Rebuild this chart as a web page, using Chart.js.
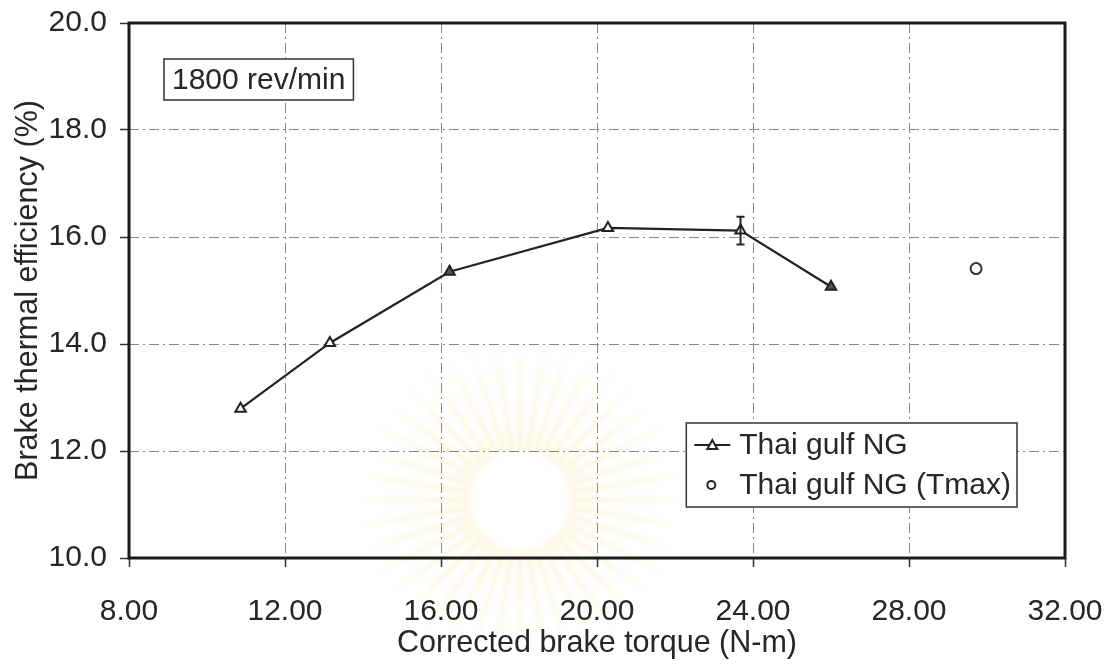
<!DOCTYPE html>
<html>
<head>
<meta charset="utf-8">
<title>Brake thermal efficiency vs corrected brake torque</title>
<script src="https://cdn.jsdelivr.net/npm/chart.js@4/dist/chart.umd.min.js"></script>
<style>
  html, body { margin: 0; padding: 0; background: #ffffff; }
  #wrap { width: 1113px; height: 666px; position: relative; }
</style>
</head>
<body>
<div id="wrap"><canvas id="chart" width="1113" height="666"></canvas></div>
<script>
// Measured series at 1800 rev/min
const torque = [10.86, 13.15, 16.22, 20.28, 23.68, 26.0];          // N-m
const efficiency = [12.79, 14.02, 15.35, 16.17, 16.12, 15.07];     // %
const efficiencyError = [0, 0, 0, 0, 0.26, 0];                     // +/- %

// Maximum-torque point
const tmaxTorque = [29.72];
const tmaxEfficiency = [15.41];

// Axes
const xTicks = [8, 12, 16, 20, 24, 28, 32];
const yTicks = [10, 12, 14, 16, 18, 20];

const seriesLabels = ['Thai gulf NG', 'Thai gulf NG (Tmax)'];
const speedLabel = '1800 rev/min';

const FONT = "'Liberation Sans', Arial, Helvetica, sans-serif";
const INK = '#262626';
const FS = 30;

const mainPoints = torque.map((x, i) => ({ x, y: efficiency[i] }));
const tmaxPoints = tmaxTorque.map((x, i) => ({ x, y: tmaxEfficiency[i] }));

// Pale emblem behind the plot
const emblemPlugin = {
  id: 'emblem',
  beforeDraw(chart) {
    const ctx = chart.ctx;
    const cx = 520, cy = 500, r0 = 50, r1 = 160, n = 40;
    ctx.save();
    ctx.filter = 'blur(2px)';
    for (let i = 0; i < n; i++) {
      const a = (i / n) * Math.PI * 2;
      const w = (Math.PI * 2 / n) * 0.4;
      const g = ctx.createRadialGradient(cx, cy, r0, cx, cy, r1);
      g.addColorStop(0, 'rgba(248, 226, 160, 0.32)');
      g.addColorStop(0.6, 'rgba(248, 226, 160, 0.2)');
      g.addColorStop(1, 'rgba(248, 226, 160, 0)');
      ctx.fillStyle = g;
      ctx.beginPath();
      ctx.moveTo(cx + Math.cos(a - w) * r0, cy + Math.sin(a - w) * r0);
      ctx.lineTo(cx + Math.cos(a - w * 0.3) * r1, cy + Math.sin(a - w * 0.3) * r1);
      ctx.lineTo(cx + Math.cos(a + w * 0.3) * r1, cy + Math.sin(a + w * 0.3) * r1);
      ctx.lineTo(cx + Math.cos(a + w) * r0, cy + Math.sin(a + w) * r0);
      ctx.closePath();
      ctx.fill();
    }
    ctx.restore();
  }
};

// Thick frame round the plot area
const framePlugin = {
  id: 'frame',
  beforeDatasetsDraw(chart) {
    const { ctx, chartArea: a } = chart;
    ctx.save();
    ctx.strokeStyle = '#1a1a1a';
    ctx.lineWidth = 3;
    ctx.strokeRect(a.left, a.top, a.right - a.left, a.bottom - a.top);
    ctx.restore();
  }
};

// Vertical error bars on the measured series
const errorBarPlugin = {
  id: 'errorBars',
  afterDatasetsDraw(chart) {
    const { ctx, scales: { x, y } } = chart;
    ctx.save();
    ctx.strokeStyle = '#222';
    ctx.lineWidth = 2;
    efficiencyError.forEach((e, i) => {
      if (!e) return;
      const px = x.getPixelForValue(torque[i]);
      const yt = y.getPixelForValue(efficiency[i] + e);
      const yb = y.getPixelForValue(efficiency[i] - e);
      ctx.beginPath();
      ctx.moveTo(px, yt); ctx.lineTo(px, yb);
      ctx.moveTo(px - 4, yt); ctx.lineTo(px + 4, yt);
      ctx.moveTo(px - 4, yb); ctx.lineTo(px + 4, yb);
      ctx.stroke();
    });
    ctx.restore();
  }
};

// Speed label box and legend box inside the plot
const boxesPlugin = {
  id: 'boxes',
  afterDraw(chart) {
    const { ctx, chartArea: a } = chart;
    ctx.save();
    ctx.font = FS + 'px ' + FONT;
    ctx.textBaseline = 'middle';

    // speed box
    const sw = ctx.measureText(speedLabel).width;
    const sx = a.left + 35, sy = a.top + 36, sh = 41;
    ctx.fillStyle = '#fff';
    ctx.fillRect(sx, sy, sw + 16, sh);
    ctx.strokeStyle = '#333';
    ctx.lineWidth = 1.5;
    ctx.strokeRect(sx, sy, sw + 16, sh);
    ctx.fillStyle = INK;
    ctx.fillText(speedLabel, sx + 8, sy + sh / 2 + 1);

    // legend box
    const tw = Math.max(...seriesLabels.map(t => ctx.measureText(t).width));
    const right = a.right - 48, bottom = a.bottom - 51;
    const bw = tw + 53 + 6, bh = 84;
    const left = right - bw, top = bottom - bh;
    ctx.fillStyle = '#fff';
    ctx.fillRect(left, top, bw, bh);
    ctx.strokeStyle = '#333';
    ctx.lineWidth = 1.5;
    ctx.strokeRect(left, top, bw, bh);

    const rows = [top + 22, top + 62];
    const mx = left + 26;
    // line sample with triangle
    ctx.strokeStyle = '#222';
    ctx.lineWidth = 2;
    ctx.beginPath();
    ctx.moveTo(left + 8, rows[0]); ctx.lineTo(left + 44, rows[0]);
    ctx.stroke();
    ctx.fillStyle = '#fff';
    ctx.beginPath();
    ctx.moveTo(mx, rows[0] - 5);
    ctx.lineTo(mx + 5, rows[0] + 4);
    ctx.lineTo(mx - 5, rows[0] + 4);
    ctx.closePath();
    ctx.fill(); ctx.stroke();
    // circle sample
    ctx.lineWidth = 2;
    ctx.beginPath();
    ctx.arc(mx - 1, rows[1], 4, 0, Math.PI * 2);
    ctx.fill(); ctx.stroke();

    ctx.fillStyle = INK;
    seriesLabels.forEach((t, i) => ctx.fillText(t, left + 53, rows[i] + 1));
    ctx.restore();
  }
};

new Chart(document.getElementById('chart'), {
  type: 'scatter',
  data: {
    datasets: [
      {
        label: seriesLabels[0],
        data: mainPoints,
        showLine: true,
        borderColor: '#222',
        borderWidth: 2.2,
        pointStyle: 'triangle',
        pointRadius: 6,
        pointBorderWidth: 2,
        pointBorderColor: '#222',
        pointBackgroundColor: ['#fff', '#fff', '#555', '#fff', '#fff', '#555'],
        tension: 0
      },
      {
        label: seriesLabels[1],
        data: tmaxPoints,
        showLine: false,
        pointStyle: 'circle',
        pointRadius: 5.5,
        pointBorderWidth: 2,
        pointBorderColor: '#333',
        pointBackgroundColor: '#fff'
      }
    ]
  },
  options: {
    responsive: false,
    animation: false,
    devicePixelRatio: 1,
    layout: { padding: { top: 23, right: 48, left: 0, bottom: 0 } },
    plugins: {
      legend: { display: false },
      tooltip: { enabled: false }
    },
    scales: {
      x: {
        type: 'linear',
        min: xTicks[0],
        max: xTicks[xTicks.length - 1],
        afterBuildTicks(scale) { scale.ticks = xTicks.map(v => ({ value: v })); },
        afterFit(scale) {
          scale.height = 108;
          scale.paddingLeft = 0;
          scale.paddingRight = 0;
        },
        ticks: {
          callback: v => Number(v).toFixed(2),
          font: { family: FONT, size: FS },
          color: INK,
          padding: 27,
          maxRotation: 0
        },
        grid: {
          color: '#8a8a8a',
          lineWidth: 1,
          tickLength: 9,
          tickColor: '#333',
          tickWidth: 1.5
        },
        border: { display: false, dash: [10, 4, 2, 4] },
        title: {
          display: true,
          text: 'Corrected brake torque (N-m)',
          font: { family: FONT, size: 30.5 },
          color: INK,
          padding: { top: 0, bottom: 4 }
        }
      },
      y: {
        type: 'linear',
        min: yTicks[0],
        max: yTicks[yTicks.length - 1],
        afterBuildTicks(scale) { scale.ticks = yTicks.map(v => ({ value: v })); },
        afterFit(scale) {
          scale.width = 129;
          scale.paddingTop = 0;
          scale.paddingBottom = 0;
        },
        ticks: {
          callback: v => Number(v).toFixed(1),
          font: { family: FONT, size: FS },
          color: INK,
          padding: 13
        },
        grid: {
          color: '#8a8a8a',
          lineWidth: 1,
          tickLength: 9,
          tickColor: '#333',
          tickWidth: 1.5
        },
        border: { display: false, dash: [10, 4, 2, 4] },
        title: {
          display: true,
          text: 'Brake thermal efficiency (%)',
          font: { family: FONT, size: 30.5 },
          color: INK,
          padding: { top: 10, bottom: 0 }
        }
      }
    }
  },
  plugins: [emblemPlugin, framePlugin, errorBarPlugin, boxesPlugin]
});
</script>
</body>
</html>
